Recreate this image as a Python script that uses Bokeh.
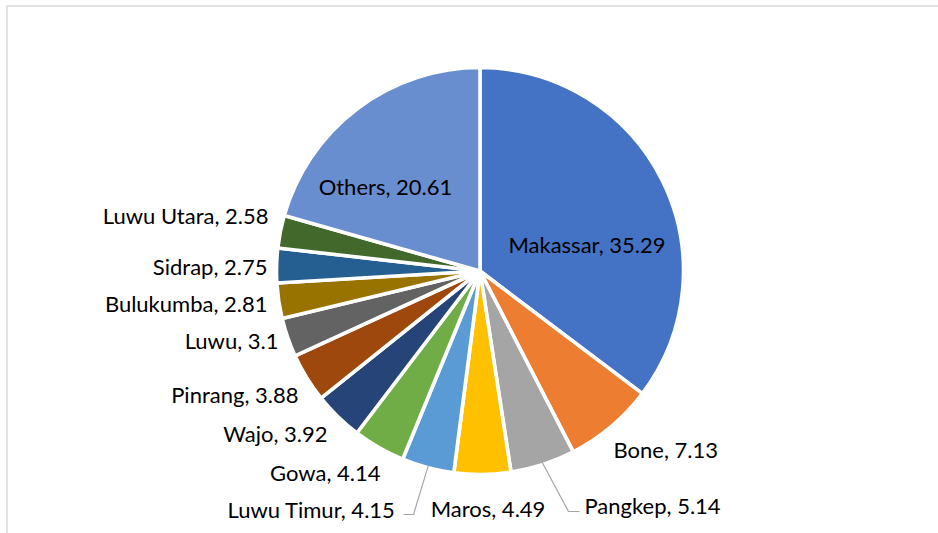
import numpy as np
from bokeh.plotting import figure
from bokeh.models import Range1d, ColumnDataSource
from bokeh.embed import file_html
from bokeh.resources import INLINE
from bokeh.core.properties import value

# ---------------- data ----------------
regions = ["Makassar", "Bone", "Pangkep", "Maros", "Luwu Timur", "Gowa", "Wajo",
           "Pinrang", "Luwu", "Bulukumba", "Sidrap", "Luwu Utara", "Others"]
shares = [35.29, 7.13, 5.14, 4.49, 4.15, 4.14, 3.92, 3.88, 3.1, 2.81, 2.75, 2.58, 20.61]
colors = ["#4472C4", "#ED7D31", "#A5A5A5", "#FFC000", "#5B9BD5", "#70AD47", "#264478",
          "#9E480E", "#636363", "#997300", "#255E91", "#43682B", "#698ED0"]

# ---------------- layout (page pixels) ----------------
W, H = 938, 533


def px(x):
    return x


def py(y):
    return H - y


CX, CY = 479.5, 270.5              # pie centre on the page
R = 203.5                          # pie radius (px)
EDGE_W = 3.6                       # white slice separator width
BORDER_X, BORDER_Y = 6.5, 5.5      # chart-area border (top and left visible)

# label anchor on page (x, y, align)
label_layout = {
    "Makassar":   (586.5, 244, "center"),
    "Bone":       (613, 449, "left"),
    "Pangkep":    (584, 505, "left"),
    "Maros":      (487.5, 508, "center"),
    "Luwu Timur": (395, 509, "right"),
    "Gowa":       (380, 472, "right"),
    "Wajo":       (327, 433, "right"),
    "Pinrang":    (298, 394, "right"),
    "Luwu":       (278, 340, "right"),
    "Bulukumba":  (267, 303, "right"),
    "Sidrap":     (267, 266, "right"),
    "Luwu Utara": (268, 215, "right"),
    "Others":     (385, 186, "center"),
}
# leader lines: (elbow, end) on page
leaders = {
    "Pangkep":    ((568, 511), (579, 511)),
    "Luwu Timur": ((413, 514), (403, 514)),
}

# ---------------- geometry ----------------
vals = np.array(shares, dtype=float)
total = vals.sum()
cum = np.concatenate([[0.0], np.cumsum(vals)]) / total
f0, f1 = cum[:-1], cum[1:]
start_angle = np.pi / 2 - 2 * np.pi * f1
end_angle = np.pi / 2 - 2 * np.pi * f0
mid = np.pi / 2 - np.pi * (f0 + f1)

src = ColumnDataSource(dict(start=start_angle, end=end_angle, color=colors))

p = figure(width=W, height=H, x_range=Range1d(0, W), y_range=Range1d(0, H),
           x_axis_type=None, y_axis_type=None, output_backend="svg",
           toolbar_location=None, min_border=0)
p.grid.visible = False
p.outline_line_color = None
p.background_fill_color = "white"
p.border_fill_color = "white"

# chart border (top and left visible)
p.line(x=[px(BORDER_X), px(BORDER_X), W], y=[0, py(BORDER_Y), py(BORDER_Y)],
       line_color="#D9D9D9", line_width=1.5)

p.wedge(x=px(CX), y=py(CY), radius=R, start_angle="start", end_angle="end",
        fill_color="color", line_color="white", line_width=EDGE_W, source=src)

# leader lines
lx, ly = [], []
for name, (elbow, end) in leaders.items():
    i = regions.index(name)
    r_edge = R - EDGE_W / 2
    sx = px(CX) + r_edge * np.cos(mid[i])
    sy = py(CY) + r_edge * np.sin(mid[i])
    lx.append([sx, px(elbow[0]), px(end[0])])
    ly.append([sy, py(elbow[1]), py(end[1])])
p.multi_line(xs=lx, ys=ly, line_color="#A6A6A6", line_width=1.2)

# labels
tx, ty, tt, ta = [], [], [], []
for name, v in zip(regions, shares):
    x, y, a = label_layout[name]
    tx.append(px(x))
    ty.append(py(y))
    tt.append(f"{name}, {v}")
    ta.append(a)
lsrc = ColumnDataSource(dict(x=tx, y=ty, text=tt, align=ta))
p.text(x="x", y="y", text="text", text_align="align", text_baseline="middle",
       text_font=value("Lato"), text_font_size="22px", text_color="#000000", source=lsrc)

open("out.html", "w").write(file_html(p, INLINE))
